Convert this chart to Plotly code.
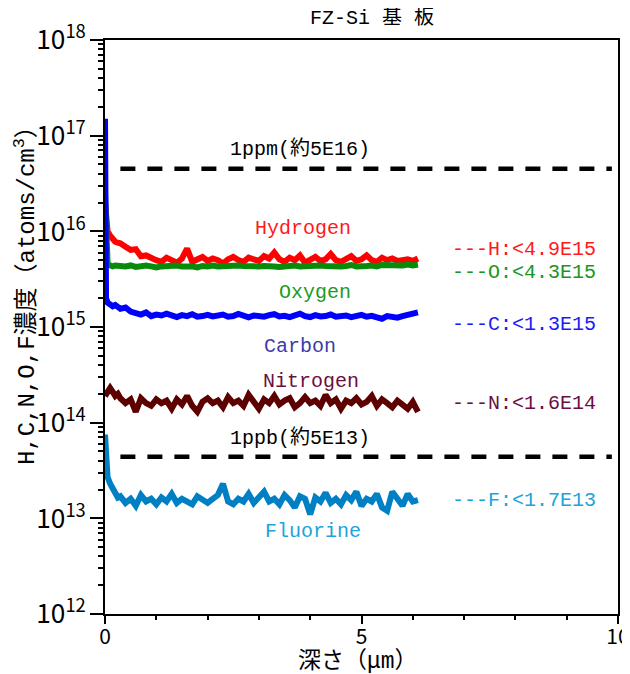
import plotly.graph_objects as go

# ---------------- data ----------------
depth_um = [0, 0.02, 0.05, 0.1, 0.15, 0.2, 0.25,
            0.3, 0.4, 0.5, 0.6, 0.7, 0.8, 0.9, 1.0,
            1.1, 1.2, 1.3, 1.4, 1.5, 1.6, 1.7, 1.8, 1.9, 2.0,
            2.1, 2.2, 2.3, 2.4, 2.5, 2.6, 2.7, 2.8, 2.9, 3.0,
            3.1, 3.2, 3.3, 3.4, 3.5, 3.6, 3.7, 3.8, 3.9, 4.0,
            4.1, 4.2, 4.3, 4.4, 4.5, 4.6, 4.7, 4.8, 4.9, 5.0,
            5.1, 5.2, 5.3, 5.4, 5.5, 5.6, 5.7, 5.8, 5.9, 6.0,
            6.1]

# concentrations (atoms/cm3)
hydrogen_e15 = [20, 13, 10, 9.0, 8.2, 7.8, 7.6,
                7.5, 6.9, 6.4, 6.5, 5.5, 5.6, 5.2, 5.0,
                4.8, 5.3, 5.0, 4.7, 5.2, 6.6, 4.8, 5.1, 5.4, 4.9,
                5.2, 5.0, 4.6, 5.1, 5.4, 5.0, 4.8, 5.3, 5.1, 4.9,
                5.5, 5.2, 6.0, 5.1, 4.8, 5.3, 5.0, 5.6, 4.7, 5.0,
                5.4, 4.9, 5.1, 5.8, 5.0, 4.8, 5.2, 5.5, 4.9, 5.1,
                5.6, 5.0, 4.8, 5.3, 5.0, 5.2, 4.9, 5.0, 5.1, 4.9,
                5.2]
oxygen_e15 = [25, 6.5, 4.6, 4.4, 4.3, 4.4, 4.3,
              4.35, 4.3, 4.4, 4.25, 4.35, 4.4, 4.3, 4.2,
              4.3, 4.35, 4.25, 4.4, 4.3, 4.35, 4.3, 4.2, 4.35, 4.3,
              4.4, 4.3, 4.35, 4.25, 4.3, 4.4, 4.35, 4.3, 4.2, 4.3,
              4.35, 4.4, 4.3, 4.25, 4.35, 4.3, 4.4, 4.3, 4.35, 4.25,
              4.3, 4.4, 4.35, 4.3, 4.4, 4.3, 4.35, 4.45, 4.3, 4.4,
              4.35, 4.4, 4.3, 4.45, 4.4, 4.35, 4.45, 4.4, 4.5, 4.4,
              4.5]
carbon_e15 = [150, 2.0, 1.8, 1.7, 1.65, 1.7, 1.6,
              1.55, 1.6, 1.45, 1.4, 1.35, 1.42, 1.3, 1.35,
              1.32, 1.38, 1.3, 1.27, 1.33, 1.3, 1.36, 1.28, 1.3, 1.34,
              1.29, 1.31, 1.35, 1.28, 1.3, 1.37, 1.3, 1.26, 1.32, 1.3,
              1.28, 1.33, 1.36, 1.29, 1.31, 1.27, 1.3, 1.38, 1.3, 1.27,
              1.33, 1.29, 1.3, 1.35, 1.28, 1.3, 1.32, 1.27, 1.3, 1.34,
              1.28, 1.31, 1.26, 1.22, 1.3, 1.28, 1.25, 1.3, 1.35, 1.38,
              1.42]
nitrogen_e14 = [1.9, 2.0, 2.2, 2.3, 2.1, 1.9, 2.0,
                1.8, 1.6, 1.75, 1.3, 1.8, 1.6, 1.5, 1.75,
                1.6, 1.7, 1.4, 1.75, 1.55, 1.9, 1.5, 1.3, 1.65, 1.8,
                1.6, 1.7, 1.45, 1.85, 1.6, 1.7, 1.5, 1.95, 1.6, 1.4,
                1.75, 1.6, 1.9, 1.55, 1.7, 1.8, 1.45, 1.6, 1.85, 1.6,
                1.7, 1.5, 1.95, 1.6, 1.75, 1.4, 1.7, 1.6, 1.8, 1.55,
                1.65, 1.9, 1.5, 1.75, 1.6, 1.45, 1.7, 1.55, 1.4, 1.65,
                1.3]
fluorine_e13 = [7.5, 4.5, 2.7, 2.3, 2.0, 1.8, 1.65,
                1.7, 1.45, 1.6, 1.35, 1.75, 1.5, 1.6, 1.4,
                1.65, 1.5, 1.8, 1.45, 1.6, 1.5, 1.4, 1.7, 1.55, 1.45,
                1.6, 1.75, 2.3, 1.5, 1.4, 1.6, 1.5, 1.8, 1.45, 1.65,
                1.9, 1.5, 1.6, 1.4, 1.75, 1.55, 1.3, 1.7, 1.6, 1.1,
                1.65, 1.5, 1.85, 1.45, 1.6, 1.4, 1.75, 1.55, 1.9, 1.35,
                1.6, 1.5, 1.8, 1.3, 1.2, 1.9, 1.55, 1.35, 1.8, 1.5,
                1.55]

ref_line_x = [0.3, 9.88]
ppm_level = 4.5e16
ppb_level = 4.4e13

series = [
    ("Hydrogen", [v * 1e15 for v in hydrogen_e15], "#ff0000"),
    ("Oxygen", [v * 1e15 for v in oxygen_e15], "#0a8a0a"),
    ("Carbon", [v * 1e15 for v in carbon_e15], "#0000ff"),
    ("Nitrogen", [v * 1e14 for v in nitrogen_e14], "#5c0000"),
    ("Fluorine", [v * 1e13 for v in fluorine_e13], "#0080c4"),
]

MONO = "Liberation Mono, Noto Sans CJK JP, monospace"
CJK = "Noto Sans CJK JP, sans-serif"

fig = go.Figure()

for lvl in (ppm_level, ppb_level):
    fig.add_trace(go.Scatter(x=ref_line_x, y=[lvl, lvl], mode="lines",
                             line=dict(color="black", width=4.5, dash="15px,12px"),
                             hoverinfo="skip"))

for name, vals, col in series:
    fig.add_trace(go.Scatter(x=depth_um, y=vals, mode="lines", name=name,
                             line=dict(color=col, width=6)))


def ann(text, x, y, color, size=20, xanchor="center"):
    fig.add_annotation(text=text, x=x, y=y, xref="x", yref="y", showarrow=False,
                       font=dict(family=MONO, size=size, color=color), xanchor=xanchor)


ann("1ppm(約5E16)", 3.8, 16.86, "black")
ann("1ppb(約5E13)", 3.8, 13.84, "black")
ann("Hydrogen", 3.86, 16.03, "#ff1a1a")
ann("Oxygen", 4.09, 15.36, "#1f9a1f")
ann("Carbon", 3.80, 14.80, "#3c3ca8")
ann("Nitrogen", 4.02, 14.43, "#6a1040")
ann("Fluorine", 4.05, 12.86, "#20a4dc")
ann("---H:&lt;4.9E15", 6.73, 15.815, "#ff1a1a", xanchor="left")
ann("---O:&lt;4.3E15", 6.73, 15.565, "#18961e", xanchor="left")
ann("---C:&lt;1.3E15", 6.73, 15.03, "#1a1aff", xanchor="left")
ann("---N:&lt;1.6E14", 6.73, 14.20, "#6a1040", xanchor="left")
ann("---F:&lt;1.7E13", 6.73, 13.19, "#20a4dc", xanchor="left")

# chart title
fig.add_annotation(text="FZ-Si 基 板", x=0.52, y=1.0, xref="paper", yref="paper",
                   yanchor="middle", yshift=22, showarrow=False,
                   font=dict(family=MONO, size=20, color="black"))
# axis titles
fig.add_annotation(text="深さ（μm）", x=0.493, y=-0.0836, xref="paper", yref="paper",
                   xanchor="center", yanchor="middle", showarrow=False,
                   font=dict(family=MONO, size=23, color="black"))
fig.add_annotation(text="H,C,N,O,F濃度（atoms/cm<sup>3</sup>）", x=-0.156, y=0.566,
                   xref="paper", yref="paper", textangle=-90,
                   xanchor="center", yanchor="middle", showarrow=False,
                   font=dict(family=MONO, size=24, color="black"))

# page body has an 8px margin, so the figure is 8px smaller than the window
fig.update_layout(
    width=622, height=666,
    margin=dict(l=97, r=12, t=32, b=60),
    paper_bgcolor="white", plot_bgcolor="white",
    showlegend=False,
    font=dict(family=MONO, color="black"),
)

fig.update_xaxes(
    range=[0, 10], tickvals=[0, 5, 10], ticktext=["0", "5", "10"],
    ticks="outside", ticklen=8, tickwidth=2, tickcolor="black",
    minor=dict(ticks="outside", ticklen=4, tickwidth=1.5, tickcolor="black", dtick=1, showgrid=False),
    showline=True, linewidth=2, linecolor="black", mirror=True,
    showgrid=False, zeroline=False, automargin=False,
    ticklabelstandoff=-5,
    tickfont=dict(family=CJK, size=21, color="black"),
)

fig.update_yaxes(
    type="log", range=[12, 18], dtick=1, exponentformat="power",
    ticks="outside", ticklen=13, tickwidth=2, tickcolor="black",
    minor=dict(ticks="outside", ticklen=5, tickwidth=1.5, tickcolor="black", dtick="D1", showgrid=False),
    showline=True, linewidth=2, linecolor="black", mirror=True,
    showgrid=False, zeroline=False, automargin=False,
    tickfont=dict(family=CJK, size=21, color="black"),
)

fig.write_html("out.html")
